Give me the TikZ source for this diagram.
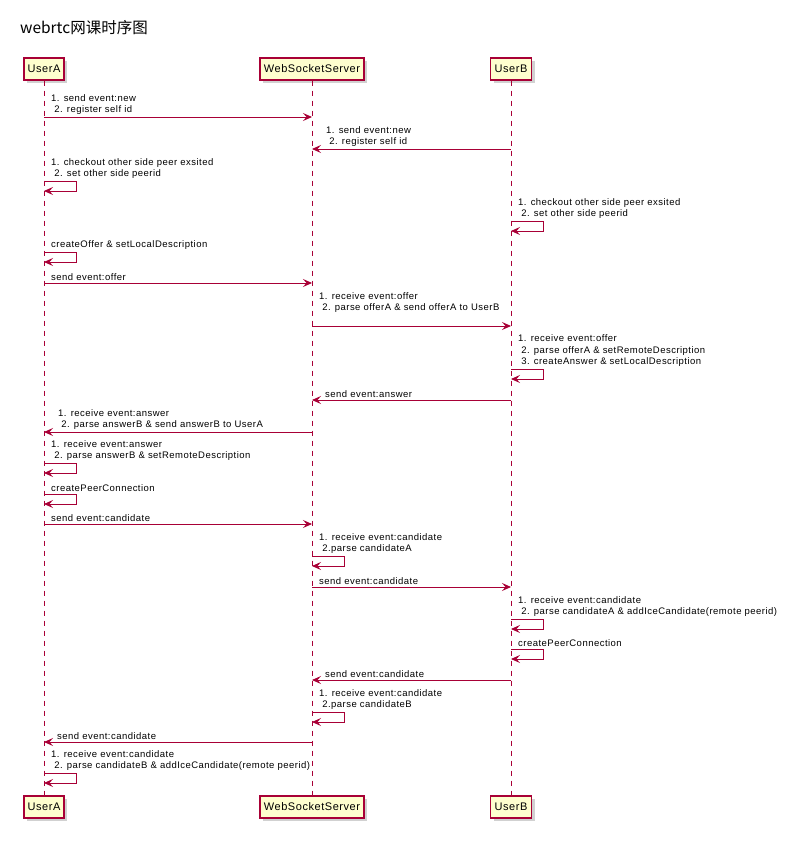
\documentclass[tikz,border=0pt]{standalone}
\usepackage{fontspec}
\setmainfont{Liberation Sans}
\newfontfamily\umlfont[LetterSpace=5]{Liberation Sans}
\newfontfamily\cjk{Noto Sans CJK SC}
\usetikzlibrary{positioning,shadows,arrows.meta}
\definecolor{umlred}{HTML}{A80036}
\definecolor{umlfill}{HTML}{FEFECE}
\tikzset{
	actor/.style={
		draw=umlred, % border of the participant box
		fill=umlfill, % pale yellow fill
		line width=1.2pt,
		minimum height=22pt,
		inner sep=0pt,
		font=\umlfont\fontsize{11}{13}\selectfont,
		drop shadow={shadow xshift=3pt, shadow yshift=-3pt, opacity=0.3, fill=black!60}
	},
	life/.style={umlred, line width=0.8pt, dash pattern=on 5pt off 5pt},
	msg/.style={umlred, line width=0.9pt, -{Stealth[length=9pt, width=8pt, inset=3.5pt]}},
	selfmsg/.style={umlred, line width=0.9pt, -{Stealth[length=9pt, width=8pt, inset=3.5pt]}},
	lbl/.style={anchor=south west, inner sep=0pt, align=left, font=\umlfont\fontsize{9.5}{11.7}\selectfont}
}

\begin{document}
\begin{tikzpicture}[x=1pt, y=-1pt]
	\useasboundingbox (0,0) rectangle (800,842);
	
	\node[anchor=west, inner sep=0pt, font=\cjk\fontsize{15.5}{18}\selectfont] (title) at (20,28) {webrtc网课时序图};
	
	% participants, top and bottom
	\node[actor, minimum width=40pt] (A) at (44,69) {UserA};
	\node[actor, minimum width=104pt] (S) at (312,69) {WebSocketServer};
	\node[actor, minimum width=41pt] (B) at (511,69) {UserB};
	\node[actor, minimum width=40pt] (A2) at (44,807) {UserA};
	\node[actor, minimum width=104pt] (S2) at (312,807) {WebSocketServer};
	\node[actor, minimum width=41pt] (B2) at (511,807) {UserB};
	
	\draw[life] (A) -- (A2);
	\draw[life] (S) -- (S2);
	\draw[life] (B) -- (B2);
	
	% register
	\coordinate (m1) at (44,117);
	\node[lbl] (l1) at (51,115) {1. send event:new\\\ 2. register self id};
	\draw[msg] (m1) -- (m1 -| S);
	
	\coordinate (m2) at (511,149);
	\node[lbl] (l2) at (326,147) {1. send event:new\\\ 2. register self id};
	\draw[msg] (m2) -- (m2 -| S);
	
	\coordinate (m3) at (44,181);
	\node[lbl] (l3) at (51,179) {1. checkout other side peer exsited\\\ 2. set other side peerid};
	\draw[selfmsg] (m3) -- ++(32,0) -- ++(0,10) -- ++(-32,0);
	
	\coordinate (m4) at (511,221);
	\node[lbl] (l4) at (518,219) {1. checkout other side peer exsited\\\ 2. set other side peerid};
	\draw[selfmsg] (m4) -- ++(32,0) -- ++(0,10) -- ++(-32,0);
	
	% offer
	\coordinate (m5) at (44,252);
	\node[lbl] (l5) at (51,250) {createOffer \& setLocalDescription};
	\draw[selfmsg] (m5) -- ++(32,0) -- ++(0,10) -- ++(-32,0);
	
	\coordinate (m6) at (44,283);
	\node[lbl] (l6) at (51,281) {send event:offer};
	\draw[msg] (m6) -- (m6 -| S);
	
	\coordinate (m7) at (312,326);
	\node[lbl] (l7) at (319,313) {1. receive event:offer\\\ 2. parse offerA \& send offerA to UserB};
	\draw[msg] (m7) -- (m7 -| B);
	
	\coordinate (m8) at (511,369);
	\node[lbl] (l8) at (518,367) {1. receive event:offer\\\ 2. parse offerA \& setRemoteDescription\\\ 3. createAnswer \& setLocalDescription};
	\draw[selfmsg] (m8) -- ++(32,0) -- ++(0,10) -- ++(-32,0);
	
	% answer
	\coordinate (m9) at (511,400);
	\node[lbl] (l9) at (325,398) {send event:answer};
	\draw[msg] (m9) -- (m9 -| S);
	
	\coordinate (m10) at (312,432);
	\node[lbl] (l10) at (58,430) {1. receive event:answer\\\ 2. parse answerB \& send answerB to UserA};
	\draw[msg] (m10) -- (m10 -| A);
	
	\coordinate (m11) at (44,463);
	\node[lbl] (l11) at (51,461) {1. receive event:answer\\\ 2. parse answerB \& setRemoteDescription};
	\draw[selfmsg] (m11) -- ++(32,0) -- ++(0,10) -- ++(-32,0);
	
	\coordinate (m12) at (44,494);
	\node[lbl] (l12) at (51,492) {createPeerConnection};
	\draw[selfmsg] (m12) -- ++(32,0) -- ++(0,10) -- ++(-32,0);
	
	% candidates
	\coordinate (m13) at (44,524);
	\node[lbl] (l13) at (51,522) {send event:candidate};
	\draw[msg] (m13) -- (m13 -| S);
	
	\coordinate (m14) at (312,556);
	\node[lbl] (l14) at (319,554) {1. receive event:candidate\\\ 2.parse candidateA};
	\draw[selfmsg] (m14) -- ++(32,0) -- ++(0,10) -- ++(-32,0);
	
	\coordinate (m15) at (312,587);
	\node[lbl] (l15) at (319,585) {send event:candidate};
	\draw[msg] (m15) -- (m15 -| B);
	
	\coordinate (m16) at (511,619);
	\node[lbl] (l16) at (518,617) {1. receive event:candidate\\\ 2. parse candidateA \& addIceCandidate(remote peerid)};
	\draw[selfmsg] (m16) -- ++(32,0) -- ++(0,10) -- ++(-32,0);
	
	\coordinate (m17) at (511,649);
	\node[lbl] (l17) at (518,647) {createPeerConnection};
	\draw[selfmsg] (m17) -- ++(32,0) -- ++(0,10) -- ++(-32,0);
	
	\coordinate (m18) at (511,680);
	\node[lbl] (l18) at (325,678) {send event:candidate};
	\draw[msg] (m18) -- (m18 -| S);
	
	\coordinate (m19) at (312,712);
	\node[lbl] (l19) at (319,710) {1. receive event:candidate\\\ 2.parse candidateB};
	\draw[selfmsg] (m19) -- ++(32,0) -- ++(0,10) -- ++(-32,0);
	
	\coordinate (m20) at (312,742);
	\node[lbl] (l20) at (57,740) {send event:candidate};
	\draw[msg] (m20) -- (m20 -| A);
	
	\coordinate (m21) at (44,773);
	\node[lbl] (l21) at (51,771) {1. receive event:candidate\\\ 2. parse candidateB \& addIceCandidate(remote peerid)};
	\draw[selfmsg] (m21) -- ++(32,0) -- ++(0,10) -- ++(-32,0);
	
\end{tikzpicture}
\end{document}
